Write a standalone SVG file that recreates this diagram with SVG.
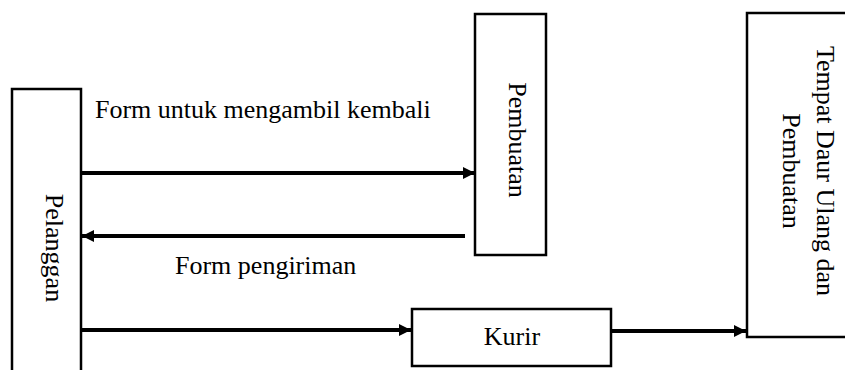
<svg xmlns="http://www.w3.org/2000/svg" width="845" height="370" viewBox="0 0 845 370">
<style>
.box{fill:#fff;stroke:#000;stroke-width:2.5}
.t{font-family:"Liberation Serif","Times New Roman",serif;font-size:26px;fill:#000}
.c{stroke:#000;stroke-width:4;fill:none}
</style>
<defs>
<marker id="ah" viewBox="0 0 10 10" refX="10" refY="5" markerWidth="3" markerHeight="3" markerUnits="strokeWidth" orient="auto"><path d="M0,0 L10,5 L0,10 z" fill="#000"/></marker>
</defs>
<rect width="845" height="370" fill="#fff"/>
<g id="pelanggan">
<path class="box" d="M12,375 L12,89 L81,89 L81,375"/>
<text class="t" text-anchor="middle" transform="translate(46,248) rotate(90)">Pelanggan</text>
</g>
<g id="pembuatan">
<rect class="box" x="475" y="14" width="71" height="241"/>
<text class="t" text-anchor="middle" transform="translate(509,140) rotate(90)">Pembuatan</text>
</g>
<g id="tempat">
<path class="box" d="M850,13 L747,13 L747,337 L850,337"/>
<text class="t" text-anchor="middle" transform="translate(817,171) rotate(90)">Tempat Daur Ulang dan</text>
<text class="t" text-anchor="middle" transform="translate(783,171) rotate(90)">Pembuatan</text>
</g>
<g id="kurir">
<rect class="box" x="412" y="309" width="199" height="57"/>
<text class="t" text-anchor="middle" x="512" y="345">Kurir</text>
</g>
<g id="connectors">
<line class="c" x1="81" y1="173" x2="475" y2="173" marker-end="url(#ah)"/>
<line class="c" x1="465" y1="236" x2="82" y2="236" marker-end="url(#ah)"/>
<line class="c" x1="81" y1="330" x2="411" y2="330" marker-end="url(#ah)"/>
<line class="c" x1="611" y1="331" x2="746" y2="331" marker-end="url(#ah)"/>
</g>
<text class="t" x="95" y="118">Form untuk mengambil kembali</text>
<text class="t" x="175" y="274">Form pengiriman</text>
</svg>
